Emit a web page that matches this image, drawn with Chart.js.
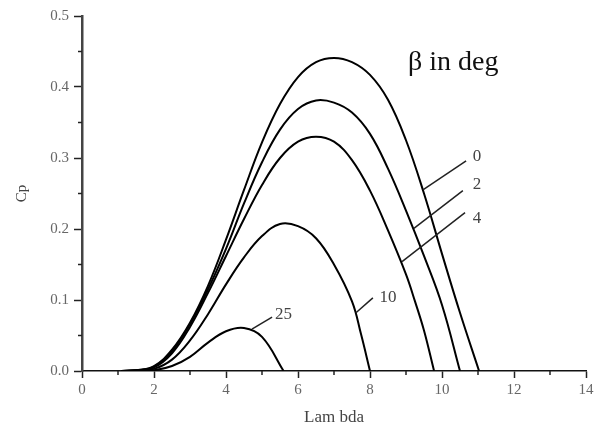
<!DOCTYPE html>
<html>
<head>
<meta charset="utf-8">
<script src="https://cdn.jsdelivr.net/npm/chart.js@4"></script>
<style>
  html, body { margin: 0; padding: 0; background: #fff; }
  #wrap { width: 597px; height: 426px; }
</style>
</head>
<body>
<div id="wrap"><canvas id="cpChart" width="597" height="426"></canvas></div>
<script>
// Cp vs tip speed ratio, one curve per pitch angle (deg)
const betaLabels = ["0", "2", "4", "10", "25"];

const lam0 = [1.1, 1.5, 2, 2.5, 3, 3.5, 4, 4.5, 5, 5.5, 6, 6.5, 7, 7.5, 8, 8.5, 9, 9.5, 10, 10.5, 11.03];
const cp0  = [0, 0.001, 0.007, 0.03, 0.068, 0.12, 0.185, 0.255, 0.322, 0.376, 0.414, 0.435, 0.441, 0.435, 0.417, 0.382, 0.325, 0.25, 0.165, 0.082, 0];

const lam2 = [1.1, 1.5, 2, 2.5, 3, 3.5, 4, 4.5, 5, 5.5, 6, 6.5, 7, 7.5, 8, 8.5, 9, 9.5, 10, 10.5];
const cp2  = [0, 0.001, 0.006, 0.028, 0.066, 0.115, 0.172, 0.236, 0.294, 0.34, 0.369, 0.381, 0.378, 0.364, 0.334, 0.285, 0.226, 0.162, 0.093, 0];

const lam4 = [1.1, 1.5, 2, 2.5, 3, 3.5, 4, 4.5, 5, 5.5, 6, 6.5, 7, 7.5, 8, 8.5, 9, 9.25, 9.5, 9.78];
const cp4  = [0, 0.001, 0.005, 0.025, 0.062, 0.11, 0.162, 0.214, 0.262, 0.3, 0.323, 0.33, 0.323, 0.297, 0.254, 0.198, 0.136, 0.098, 0.057, 0];

const lam10 = [1.1, 1.5, 2, 2.5, 3, 3.5, 4, 4.5, 5, 5.5, 6, 6.5, 7, 7.5, 7.75, 8.0];
const cp10  = [0, 0.0005, 0.003, 0.016, 0.043, 0.08, 0.122, 0.16, 0.19, 0.207, 0.204, 0.187, 0.15, 0.098, 0.052, 0];

const lam25 = [1.1, 1.5, 2, 2.5, 3, 3.5, 4, 4.5, 5, 5.6];
const cp25  = [0, 0.0002, 0.001, 0.007, 0.02, 0.04, 0.056, 0.0605, 0.048, 0];

const xTicks = [0, 2, 4, 6, 8, 10, 12, 14];
const yTicks = [0.0, 0.1, 0.2, 0.3, 0.4, 0.5];

// leader lines [x1, y1, x2, y2] and label anchors [x, y] in data units
const leaders = [
  [9.47, 0.255, 10.67, 0.296],
  [9.22, 0.201, 10.58, 0.254],
  [8.89, 0.154, 10.64, 0.223],
  [7.61, 0.082, 8.08, 0.103],
  [4.72, 0.059, 5.28, 0.076]
];
const labelPos = [
  [10.97, 0.302],
  [10.97, 0.262],
  [10.97, 0.215],
  [8.50, 0.103],
  [5.60, 0.080]
];
const legendTitle = "\u03b2 in deg";
const legendPos = [10.31, 0.434];

const serif = "'Liberation Serif', 'DejaVu Serif', serif";

function pts(xs, ys) {
  return xs.map((x, i) => ({ x: x, y: ys[i] }));
}

const series = [pts(lam0, cp0), pts(lam2, cp2), pts(lam4, cp4), pts(lam10, cp10), pts(lam25, cp25)];

const annotate = {
  id: "annotate",
  afterDraw(chart) {
    const ctx = chart.ctx;
    const xs = chart.scales.x, ys = chart.scales.y;
    ctx.save();

    // minor ticks, outward
    ctx.strokeStyle = "#222";
    ctx.lineWidth = 1.5;
    const y0 = ys.getPixelForValue(0);
    const x0 = xs.getPixelForValue(0);
    for (let v = 1; v < 14; v += 2) {
      const px = xs.getPixelForValue(v);
      ctx.beginPath(); ctx.moveTo(px, y0); ctx.lineTo(px, y0 + 4); ctx.stroke();
    }
    for (let k = 0; k < 5; k++) {
      const py = ys.getPixelForValue(0.05 + k * 0.1);
      ctx.beginPath(); ctx.moveTo(x0, py); ctx.lineTo(x0 - 4, py); ctx.stroke();
    }

    // leader lines
    leaders.forEach(l => {
      ctx.beginPath();
      ctx.moveTo(xs.getPixelForValue(l[0]), ys.getPixelForValue(l[1]));
      ctx.lineTo(xs.getPixelForValue(l[2]), ys.getPixelForValue(l[3]));
      ctx.stroke();
    });

    // labels
    ctx.fillStyle = "#444";
    ctx.font = "17px " + serif;
    ctx.textAlign = "center";
    ctx.textBaseline = "middle";
    labelPos.forEach((p, i) => {
      ctx.fillText(betaLabels[i], xs.getPixelForValue(p[0]), ys.getPixelForValue(p[1]));
    });

    ctx.fillStyle = "#111";
    ctx.font = "28px " + serif;
    ctx.fillText(legendTitle, xs.getPixelForValue(legendPos[0]), ys.getPixelForValue(legendPos[1]));
    ctx.restore();
  }
};

new Chart(document.getElementById("cpChart"), {
  type: "line",
  data: {
    datasets: series.map((d, i) => ({
      label: betaLabels[i],
      data: d,
      borderColor: "#000",
      borderWidth: 2,
      pointRadius: 0,
      fill: false,
      tension: 0.4
    }))
  },
  options: {
    responsive: false,
    animation: false,
    layout: { padding: { top: 16, right: 11, left: 0, bottom: 0 } },
    plugins: { legend: { display: false }, tooltip: { enabled: false } },
    scales: {
      x: {
        type: "linear",
        min: 0,
        max: 14,
        afterFit: s => { s.height = 55; },
        afterBuildTicks: s => { s.ticks = xTicks.map(v => ({ value: v })); },
        border: { display: true, color: "#111", width: 1.5 },
        grid: { display: true, drawOnChartArea: false, tickLength: 7, tickColor: "#222", tickWidth: 1.5 },
        ticks: { color: "#666", font: { family: serif, size: 15 }, padding: 3, maxRotation: 0 },
        title: {
          display: true,
          text: "Lam bda",
          color: "#444",
          font: { family: serif, size: 17, lineHeight: 1 },
          padding: { top: 0, bottom: 0 }
        }
      },
      y: {
        min: 0,
        max: 0.5,
        afterFit: s => { s.width = 82; },
        afterBuildTicks: s => { s.ticks = yTicks.map(v => ({ value: v })); },
        border: { display: true, color: "#444", width: 2.5 },
        grid: { display: true, drawOnChartArea: false, tickLength: 8, tickColor: "#222", tickWidth: 1.5 },
        ticks: {
          color: "#666",
          font: { family: serif, size: 15 },
          padding: 5,
          callback: v => Number(v).toFixed(1)
        },
        title: {
          display: true,
          text: "Cp",
          color: "#444",
          font: { family: serif, size: 15, lineHeight: 1.2 },
          padding: { top: 13, bottom: 0 }
        }
      }
    }
  },
  plugins: [annotate]
});
</script>
</body>
</html>
